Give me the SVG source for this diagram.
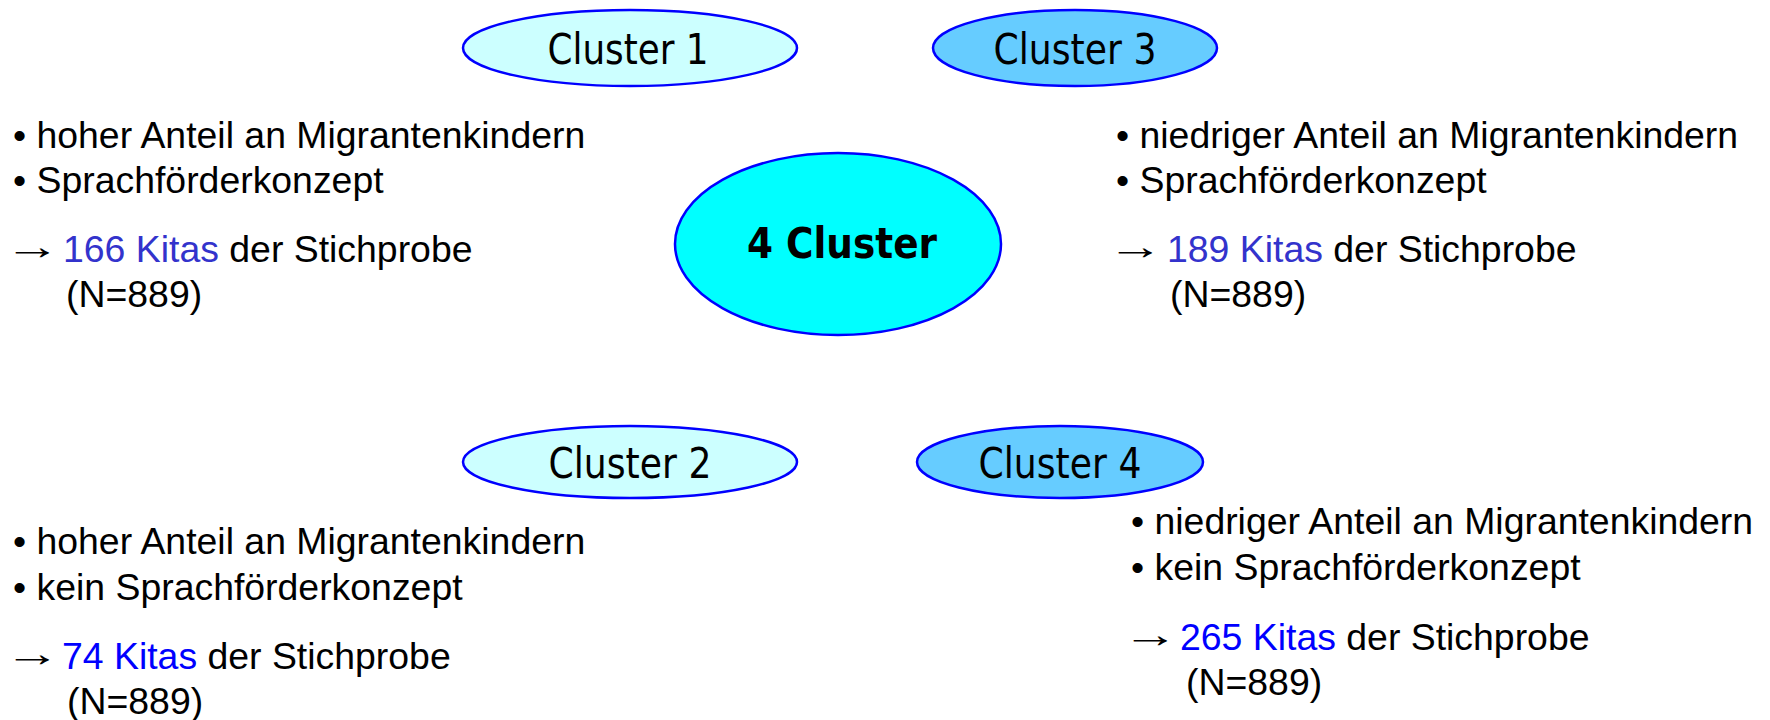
<svg xmlns="http://www.w3.org/2000/svg" width="1770" height="720" viewBox="0 0 1770 720">
  <style>
    .oval { stroke: #0000ff; stroke-width: 2.5; }
    .pale { fill: #ccffff; }
    .mid { fill: #66ccff; }
    .core { fill: #00ffff; }
    .tag { font-family: "DejaVu Sans", Verdana, sans-serif; font-size: 42px; fill: #000; text-anchor: middle; }
    .hub { font-family: "DejaVu Sans", Verdana, sans-serif; font-size: 42px; font-weight: bold; fill: #000; text-anchor: middle; }
    .body { font-family: "Liberation Sans", Arial, sans-serif; font-size: 37.4px; fill: #000; }
    .arr { font-family: "Liberation Serif", "Times New Roman", serif; font-size: 37.4px; fill: #000; }
    .n1 { fill: #3333cc; }
    .n2 { fill: #0000ff; }
  </style>

  <rect width="1770" height="720" fill="#ffffff"/>

  <!-- central node -->
  <g id="hub">
    <ellipse class="oval core" cx="838" cy="244" rx="163" ry="91"/>
    <text class="hub" x="842" y="258" textLength="190" lengthAdjust="spacingAndGlyphs">4 Cluster</text>
  </g>

  <!-- cluster ovals -->
  <g id="cluster1">
    <ellipse class="oval pale" cx="630" cy="48" rx="167" ry="38"/>
    <text class="tag" x="628" y="64" textLength="161" lengthAdjust="spacingAndGlyphs">Cluster 1</text>
  </g>
  <g id="cluster3">
    <ellipse class="oval mid" cx="1075" cy="48" rx="142" ry="38"/>
    <text class="tag" x="1075" y="64" textLength="163" lengthAdjust="spacingAndGlyphs">Cluster 3</text>
  </g>
  <g id="cluster2">
    <ellipse class="oval pale" cx="630" cy="462" rx="167" ry="36"/>
    <text class="tag" x="630" y="478" textLength="163" lengthAdjust="spacingAndGlyphs">Cluster 2</text>
  </g>
  <g id="cluster4">
    <ellipse class="oval mid" cx="1060" cy="462" rx="143" ry="36"/>
    <text class="tag" x="1060" y="478" textLength="163" lengthAdjust="spacingAndGlyphs">Cluster 4</text>
  </g>

  <!-- cluster descriptions; the arrow glyph is widened horizontally -->
  <g id="info1" class="body">
    <text x="13" y="148">• hoher Anteil an Migrantenkindern</text>
    <text x="13" y="193">• Sprachförderkonzept</text>
    <text class="arr" transform="translate(4 259) scale(1.5 1)">→</text>
    <text x="63" y="262"><tspan class="n1">166 Kitas</tspan> der Stichprobe</text>
    <text x="66" y="307">(N=889)</text>
  </g>
  <g id="info3" class="body">
    <text x="1116" y="148">• niedriger Anteil an Migrantenkindern</text>
    <text x="1116" y="193">• Sprachförderkonzept</text>
    <text class="arr" transform="translate(1107 259) scale(1.5 1)">→</text>
    <text x="1167" y="262"><tspan class="n1">189 Kitas</tspan> der Stichprobe</text>
    <text x="1170" y="307">(N=889)</text>
  </g>
  <g id="info2" class="body">
    <text x="13" y="554">• hoher Anteil an Migrantenkindern</text>
    <text x="13" y="600">• kein Sprachförderkonzept</text>
    <text class="arr" transform="translate(4 666) scale(1.5 1)">→</text>
    <text x="62" y="669"><tspan class="n2">74 Kitas</tspan> der Stichprobe</text>
    <text x="67" y="714">(N=889)</text>
  </g>
  <g id="info4" class="body">
    <text x="1131" y="534">• niedriger Anteil an Migrantenkindern</text>
    <text x="1131" y="580">• kein Sprachförderkonzept</text>
    <text class="arr" transform="translate(1122 647) scale(1.5 1)">→</text>
    <text x="1180" y="650"><tspan class="n2">265 Kitas</tspan> der Stichprobe</text>
    <text x="1186" y="695">(N=889)</text>
  </g>
</svg>
